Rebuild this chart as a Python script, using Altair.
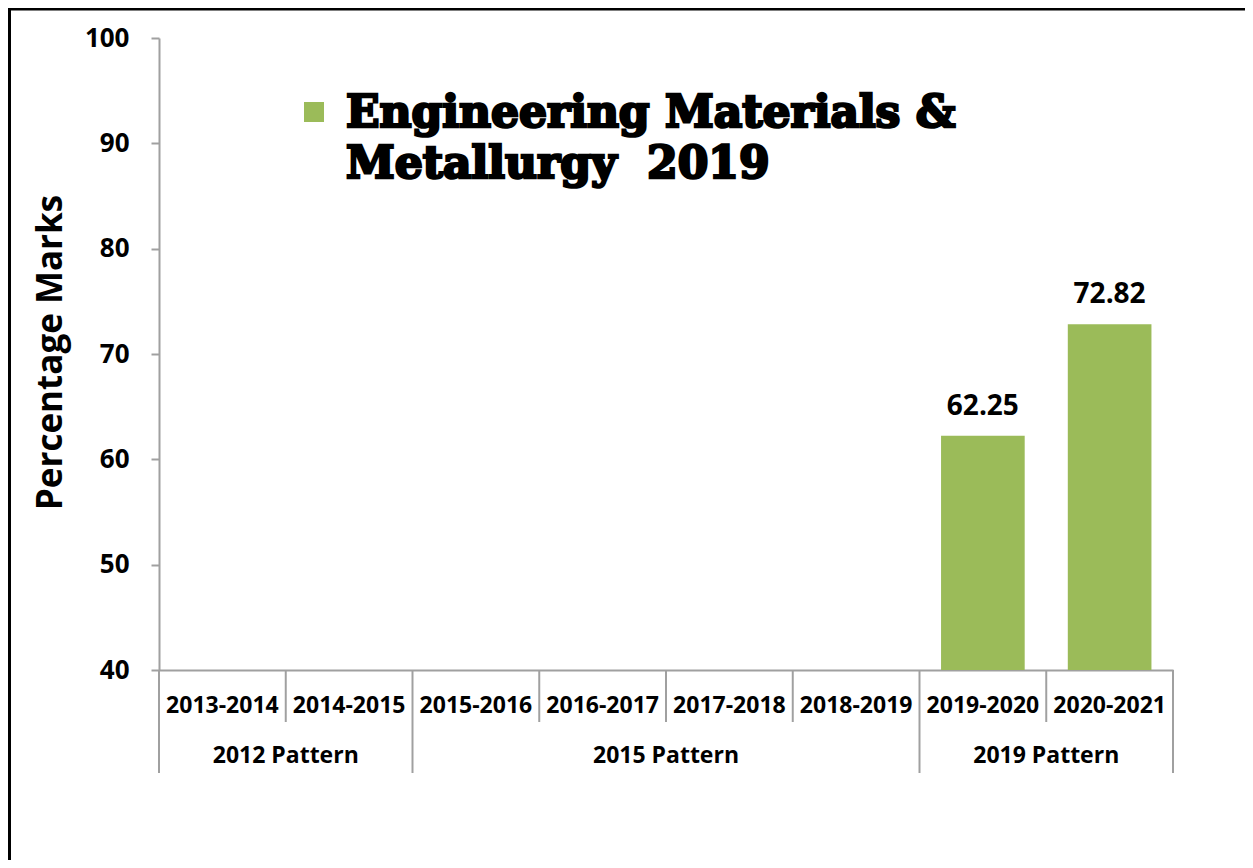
import altair as alt
import pandas as pd

years = ["2013-2014", "2014-2015", "2015-2016", "2016-2017",
         "2017-2018", "2018-2019", "2019-2020", "2020-2021"]
patterns = ["2012 Pattern", "2012 Pattern",
            "2015 Pattern", "2015 Pattern", "2015 Pattern", "2015 Pattern",
            "2019 Pattern", "2019 Pattern"]
marks = [None, None, None, None, None, None, 62.25, 72.82]
series_name = "Engineering Materials & Metallurgy  2019"
legend_lines = ["Engineering Materials &", "Metallurgy\u00a0 2019"]
y_ticks = [40, 50, 60, 70, 80, 90, 100]

W, H = 1014, 632
GREEN = "#9BBB59"
GRAY = "#A0A0A0"
FONT = "Open Sans"

df = pd.DataFrame({"year": years, "pattern": patterns, "value": marks})
df["series"] = series_name
bars_df = df.dropna(subset=["value"]).copy()

# separators of the hierarchical category axis
group_starts = [y for i, y in enumerate(years) if i == 0 or patterns[i] != patterns[i - 1]]
inner_starts = [y for y in years if y not in group_starts]
long_left = pd.DataFrame({"year": group_starts})
long_right = pd.DataFrame({"year": [years[-1]]})
short_left = pd.DataFrame({"year": inner_starts})

# pattern labels centred on their groups
pat_rows = []
for p in dict.fromkeys(patterns):
    ys = [y for y, q in zip(years, patterns) if q == p]
    pat_rows.append({"pattern": p, "anchor": ys[len(ys) // 2 - 1]})
pat_df = pd.DataFrame(pat_rows)

xscale = alt.Scale(domain=years, paddingInner=0, paddingOuter=0)
yscale = alt.Scale(domain=[y_ticks[0], y_ticks[-1]], nice=False, clamp=True)
cscale = alt.Scale(domain=[series_name], range=[GREEN])
xaxis = alt.Axis(title=None, labels=False, ticks=False, domain=True,
                 domainColor=GRAY, domainWidth=2, grid=False)

base = alt.Chart(df)

bars = alt.Chart(bars_df).mark_bar(width=alt.RelativeBandSize(0.66), color=GREEN).encode(
    x=alt.X("year:N", scale=xscale, axis=xaxis),
    y=alt.Y("value:Q", scale=yscale,
            axis=alt.Axis(values=y_ticks, title="Percentage Marks", grid=False,
                          domainColor=GRAY, domainWidth=2, tickColor=GRAY, tickWidth=2,
                          tickSize=8, labelFont=FONT, labelFontSize=26,
                          labelFontWeight="bold", labelColor="black", labelPadding=22,
                          titleFont=FONT, titleFontSize=35, titleFontWeight="bold",
                          titleColor="black", titleAngle=270, titleX=-109, titleY=H / 2 - 2,
                          titleAlign="center", titleBaseline="middle")),
    color=alt.Color("series:N", scale=cscale, legend=None),
)

value_labels = alt.Chart(bars_df).mark_text(
    font=FONT, fontSize=28, fontWeight="bold", color="black", dy=-21, baseline="alphabetic"
).encode(
    x=alt.X("year:N", scale=xscale, axis=xaxis),
    y=alt.Y("value:Q", scale=yscale),
    text=alt.Text("value:Q", format=".2f"),
)

year_labels = base.mark_text(
    font=FONT, fontSize=23, fontWeight="bold", color="black", baseline="middle"
).encode(
    x=alt.X("year:N", scale=xscale, axis=xaxis),
    y=alt.value(H + 36),
    text="year:N",
)

pattern_labels = alt.Chart(pat_df).mark_text(
    font=FONT, fontSize=23, fontWeight="bold", color="black", baseline="middle"
).encode(
    x=alt.X("anchor:N", scale=xscale, bandPosition=1, axis=xaxis),
    y=alt.value(H + 86),
    text="pattern:N",
)

sep_short = alt.Chart(short_left).mark_rule(color=GRAY, strokeWidth=2).encode(
    x=alt.X("year:N", scale=xscale, bandPosition=0, axis=xaxis),
    y=alt.value(H), y2=alt.value(H + 52),
)
sep_long_l = alt.Chart(long_left).mark_rule(color=GRAY, strokeWidth=2).encode(
    x=alt.X("year:N", scale=xscale, bandPosition=0, axis=xaxis),
    y=alt.value(H), y2=alt.value(H + 103),
)
sep_long_r = alt.Chart(long_right).mark_rule(color=GRAY, strokeWidth=2).encode(
    x=alt.X("year:N", scale=xscale, bandPosition=1, axis=xaxis),
    y=alt.value(H), y2=alt.value(H + 103),
)

legend_sym = alt.Chart(pd.DataFrame({"series": [series_name]})).mark_square(
    size=400, opacity=1
).encode(
    x=alt.value(155), y=alt.value(74),
    color=alt.Color("series:N", scale=cscale, legend=None),
)
legend_txt = alt.Chart(pd.DataFrame({"series": [series_name]})).mark_text(
    text=legend_lines, align="left", baseline="alphabetic", font="DejaVu Serif",
    fontWeight="bold", fontSize=44, lineHeight=51, color="black",
    stroke="black", strokeWidth=2.6,
).encode(x=alt.value(187), y=alt.value(89))

frame_top = alt.Chart(pd.DataFrame({"a": [0]})).mark_rule(color="black", strokeWidth=4).encode(
    x=alt.value(-151), x2=alt.value(W + 72), y=alt.value(-29.5)
)
frame_left = alt.Chart(pd.DataFrame({"a": [0]})).mark_rule(color="black", strokeWidth=4).encode(
    x=alt.value(-150), y=alt.value(-30), y2=alt.value(H + 190)
)

chart = alt.layer(
    bars, value_labels, year_labels, pattern_labels,
    sep_short, sep_long_l, sep_long_r, legend_sym, legend_txt, frame_top, frame_left
).properties(
    width=W, height=H, autosize="none", background="white",
    padding={"left": 151, "top": 30, "right": 72, "bottom": 190},
).configure_view(strokeWidth=0, stroke="transparent")

chart.save("out.html", embed_options={"renderer": "svg", "actions": False})
